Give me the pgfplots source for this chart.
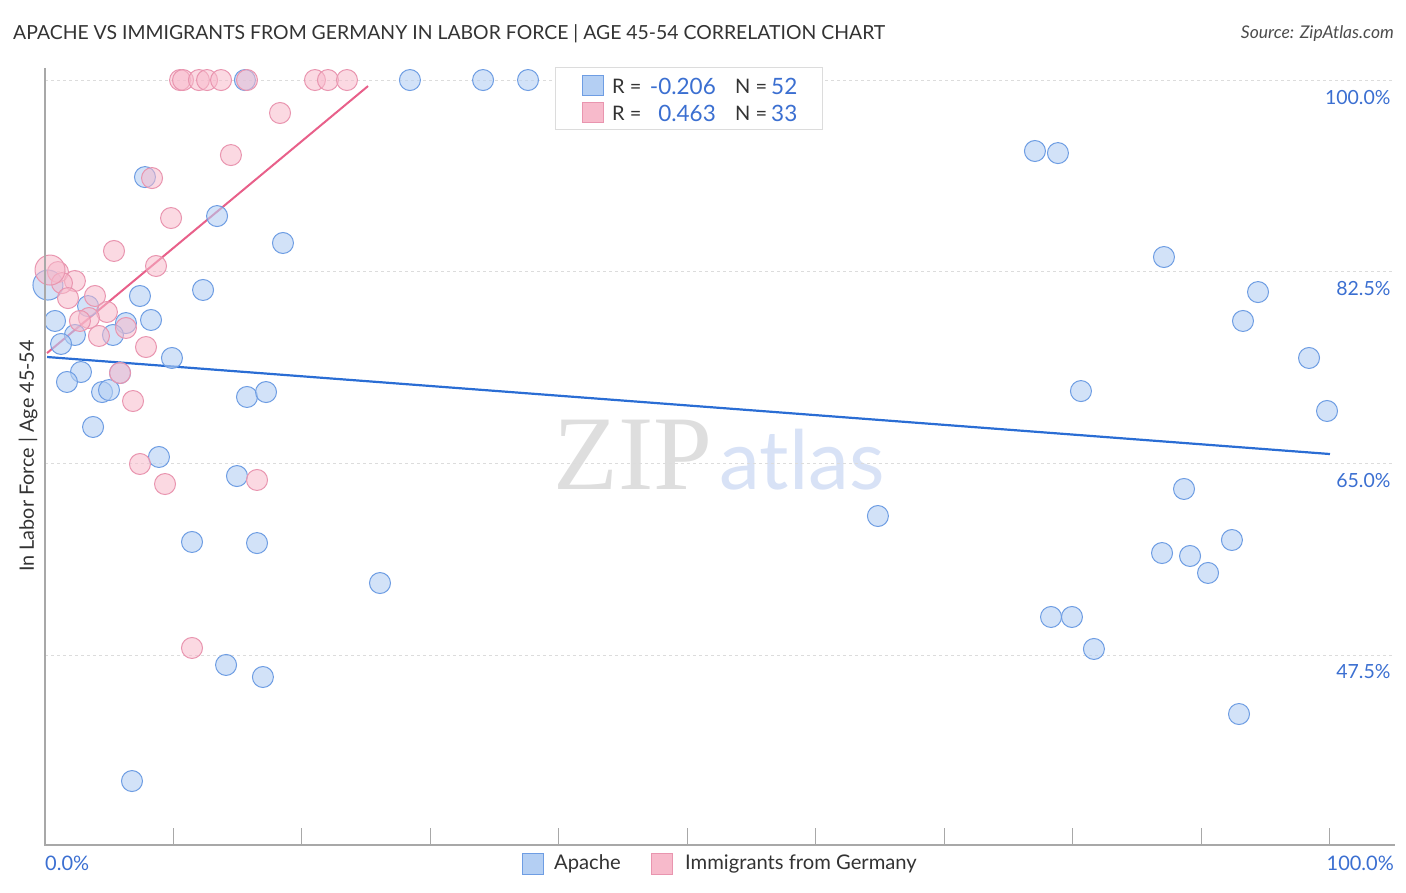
\documentclass[border=0pt]{standalone}
\usepackage{pgfplots}
\pgfplotsset{compat=1.18}
\usepackage{fontspec}
\setmainfont{Lato}
\newfontfamily\wmserif{Liberation Serif}

\definecolor{bluefill}{HTML}{B4CFF3}
\definecolor{bluestroke}{HTML}{6E9DE3}
\definecolor{pinkfill}{HTML}{F7BACB}
\definecolor{pinkstroke}{HTML}{E995AF}
\definecolor{blueline}{HTML}{2A6DD4}
\definecolor{pinkline}{HTML}{E8608A}
\definecolor{tickblue}{HTML}{3B6FD1}
\definecolor{axisgray}{HTML}{A8A8A8}
\definecolor{gridgray}{HTML}{DCDCDC}
\definecolor{titlegray}{HTML}{333333}

\begin{document}
\begin{tikzpicture}[x=1pt,y=1pt]
\useasboundingbox (0,0) rectangle (1406,892);

% watermark
\node[text=black!13, inner sep=0] at (633,437) {\wmserif\fontsize{106}{110}\selectfont ZIP};
\node[text=tickblue!20, inner sep=0] at (802,432) {\fontsize{82}{90}\selectfont atlas};

\begin{axis}[
  at={(45pt,47pt)}, anchor=south west,
  width=1350pt, height=777pt, scale only axis,
  xmin=0, xmax=105.06, ymin=30.15, ymax=101.1,
  axis line style={draw=none},
  xtick={10,20,...,100}, xticklabels={},
  xtick pos=left, tick align=inside,
  major tick length=17pt,
  xtick style={axisgray, line width=1pt},
  ytick={47.5,65,82.5,100},
  yticklabels={47.5\%,65.0\%,82.5\%,100.0\%},
  ytick style={draw=none},
  yticklabel pos=right,
  yticklabel style={anchor=east, xshift=-1pt, yshift=-17pt, text=tickblue, font=\fontsize{19.5}{22}\selectfont},
  ymajorgrids,
  grid style={dashed, gridgray, line width=0.8pt},
]
% trend lines
\addplot[blueline, line width=2.2pt] coordinates {(0.16,74.71) (100,65.85)};
\addplot[pinkline, line width=2pt] coordinates {(0.16,75.07) (25.14,99.45)};

% Apache
\addplot[only marks, mark=*, mark size=10.5pt,
  mark options={draw=bluestroke, fill=bluefill, fill opacity=0.6, line width=1pt}]
coordinates {
(15.56,100) (28.40,100) (34.09,100) (37.59,100)
(7.78,91.14) (13.39,87.58) (18.52,85.12) (12.30,80.83) (7.39,80.28)
(3.35,79.36) (0.78,78.00) (8.25,78.09) (6.30,77.81) (2.33,76.72)
(5.29,76.72) (1.25,75.90) (9.88,74.62) (2.80,73.34) (1.71,72.43)
(5.84,73.25) (4.44,71.51) (4.98,71.69) (15.72,71.06) (17.20,71.51)
(3.74,68.32) (8.87,65.58) (14.94,63.84) (11.44,57.82) (16.50,57.72)
(26.07,54.07) (14.09,46.59) (16.96,45.49) (6.77,35.99)
(77.04,93.52) (78.83,93.33) (87.08,83.84) (94.40,80.64) (93.23,78.00)
(98.37,74.62) (80.62,71.60) (99.77,69.78) (64.82,60.19) (88.64,62.66)
(86.93,56.81) (89.11,56.54) (92.37,58.00) (90.51,54.99) (78.29,50.97)
(79.92,50.97) (81.63,48.05) (92.92,42.11)
};
\addplot[only marks, mark=*, mark size=15pt,
  mark options={draw=bluestroke, fill=bluefill, fill opacity=0.6, line width=1pt}]
coordinates {(0.23,81.28)};

% Immigrants from Germany
\addplot[only marks, mark=*, mark size=10.5pt,
  mark options={draw=pinkstroke, fill=pinkfill, fill opacity=0.55, line width=1pt}]
coordinates {
(10.51,100) (10.74,100) (11.98,100) (12.61,100) (13.70,100) (15.72,100)
(21.01,100) (22.02,100) (23.50,100)
(18.29,96.99) (14.47,93.15) (8.33,91.05) (9.81,87.40) (5.37,84.39)
(8.64,83.02) (1.01,82.47) (2.33,81.65) (1.32,81.46) (1.79,80.09)
(3.89,80.28) (4.82,78.82) (3.42,78.27) (2.72,78.00) (6.30,77.36)
(4.20,76.63) (7.86,75.62) (5.84,73.25) (6.85,70.69) (7.39,64.94)
(9.34,63.11) (16.50,63.48) (11.44,48.14)
};
\addplot[only marks, mark=*, mark size=15pt,
  mark options={draw=pinkstroke, fill=pinkfill, fill opacity=0.55, line width=1pt}]
coordinates {(0.39,82.65)};
\end{axis}

% axis lines
\draw[axisgray, line width=1.2pt] (45,824) -- (45,47) -- (1395,47);

% title and source
\node[anchor=west, inner sep=0, text=titlegray] at (13,858) {\fontsize{19.4}{23}\selectfont APACHE VS IMMIGRANTS FROM GERMANY IN LABOR FORCE | AGE 45-54 CORRELATION CHART};
\node[anchor=east, inner sep=0, text=black!70] at (1394,858) {\fontsize{17.5}{20}\selectfont\itshape Source: ZipAtlas.com};

% y label
\node[rotate=90, inner sep=0, text=titlegray] at (28,436) {\fontsize{19.8}{23}\selectfont In Labor Force | Age 45-54};

% x end labels
\node[anchor=west, inner sep=0, text=tickblue] at (45,29) {\fontsize{20}{23}\selectfont 0.0\%};
\node[anchor=east, inner sep=0, text=tickblue] at (1394,29) {\fontsize{20}{23}\selectfont 100.0\%};

% top legend
\draw[gridgray, fill=white, line width=1pt] (555,824) rectangle (822,762);
\draw[bluestroke, fill=bluefill, line width=1pt] (582,816) rectangle (603,796);
\draw[pinkstroke, fill=pinkfill, line width=1pt] (582,789) rectangle (603,769);
\begin{scope}[every node/.style={inner sep=0}]
\node[anchor=west, text=titlegray] at (612,806) {\fontsize{20}{24}\selectfont R =};
\node[anchor=east, text=tickblue] at (716,806) {\fontsize{22.5}{26}\selectfont -0.206};
\node[anchor=west, text=titlegray] at (735,806) {\fontsize{20}{24}\selectfont N =};
\node[anchor=west, text=tickblue] at (771,806) {\fontsize{22.5}{26}\selectfont 52};
\node[anchor=west, text=titlegray] at (612,779) {\fontsize{20}{24}\selectfont R =};
\node[anchor=east, text=tickblue] at (716,779) {\fontsize{22.5}{26}\selectfont 0.463};
\node[anchor=west, text=titlegray] at (735,779) {\fontsize{20}{24}\selectfont N =};
\node[anchor=west, text=tickblue] at (771,779) {\fontsize{22.5}{26}\selectfont 33};
\end{scope}

% bottom legend
\draw[bluestroke, fill=bluefill, line width=1pt] (522,39) rectangle (543,18);
\node[anchor=west, inner sep=0, text=titlegray] at (554,28) {\fontsize{20.2}{24}\selectfont Apache};
\draw[pinkstroke, fill=pinkfill, line width=1pt] (651,39) rectangle (672,18);
\node[anchor=west, inner sep=0, text=titlegray] at (685,28) {\fontsize{20.2}{24}\selectfont Immigrants from Germany};
\end{tikzpicture}
\end{document}
